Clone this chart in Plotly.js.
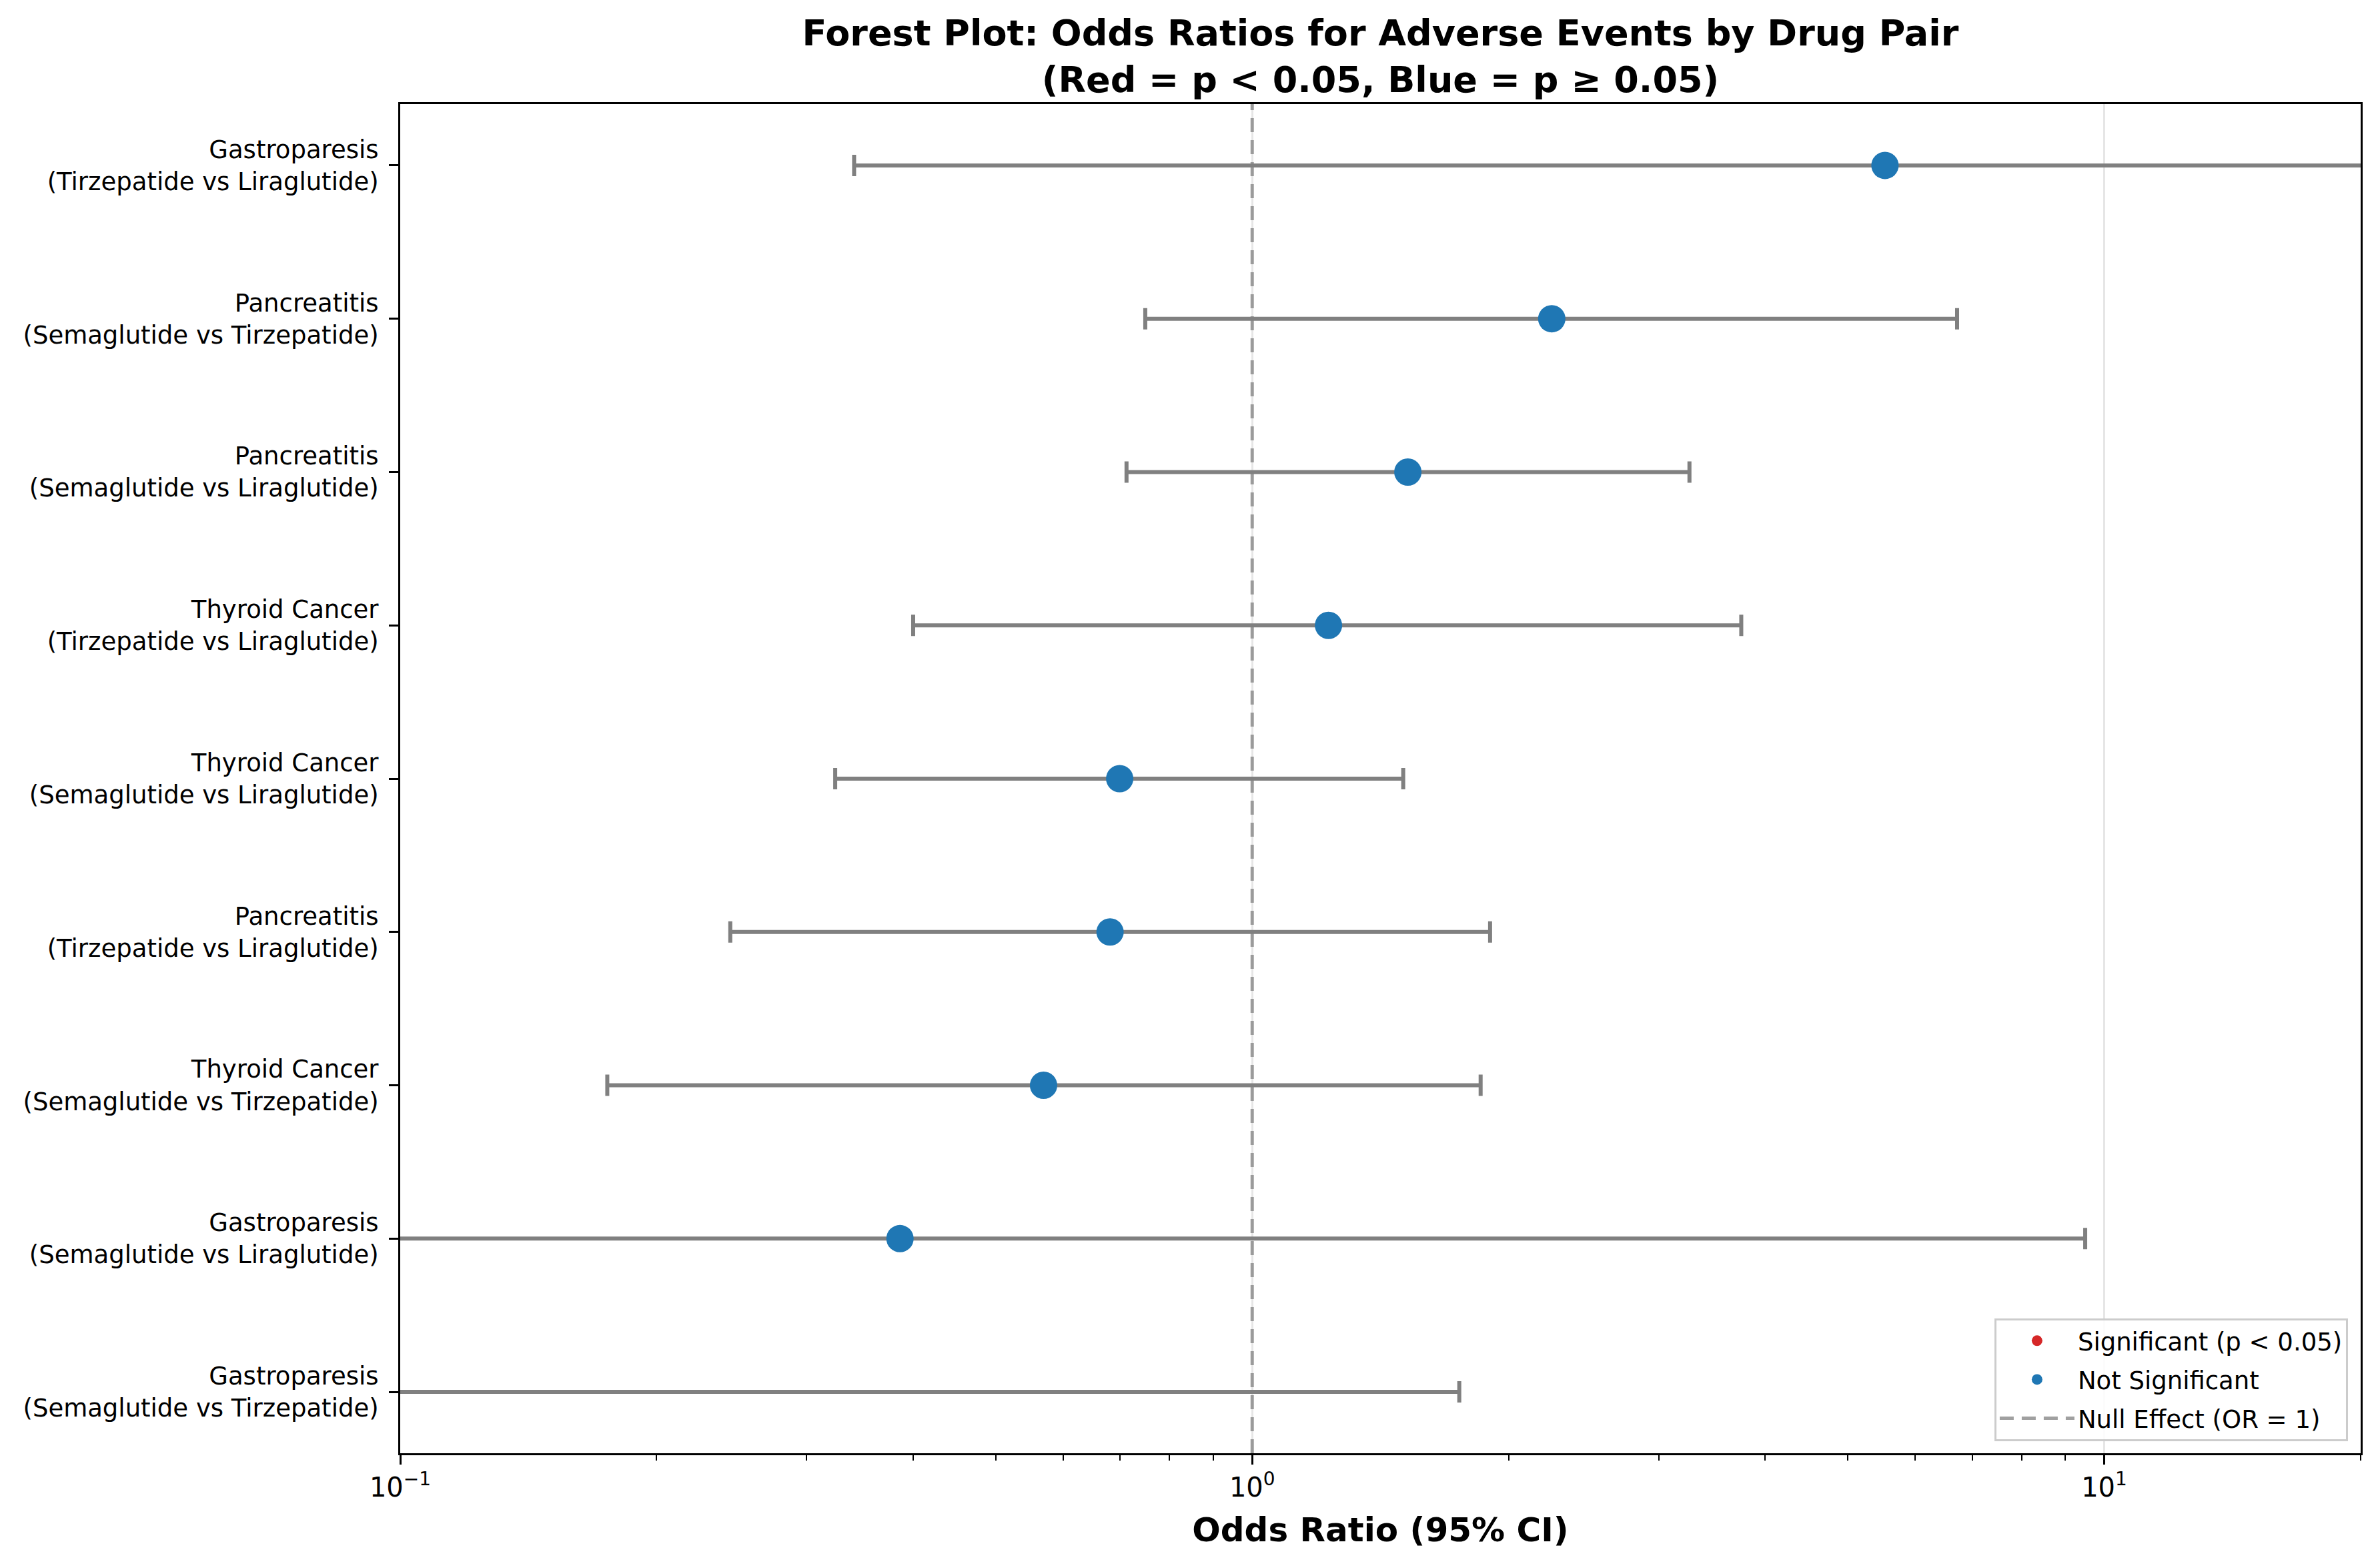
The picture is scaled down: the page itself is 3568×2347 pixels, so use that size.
<!DOCTYPE html>
<html>
<head>
<meta charset="utf-8">
<script src="https://cdn.plot.ly/plotly-3.0.1.min.js"></script>
<style>
  html, body { margin: 0; padding: 0; background: #fff; }
  #forest_chart { width: 3568px; height: 2347px; }
</style>
</head>
<body>
<div id="forest_chart"></div>
<script>
// rows bottom -> top
var eventNames = ['Gastroparesis', 'Gastroparesis', 'Thyroid Cancer', 'Pancreatitis', 'Thyroid Cancer',
                  'Thyroid Cancer', 'Pancreatitis', 'Pancreatitis', 'Gastroparesis'];
var drugPairs = ['Semaglutide vs Tirzepatide', 'Semaglutide vs Liraglutide', 'Semaglutide vs Tirzepatide',
                 'Tirzepatide vs Liraglutide', 'Semaglutide vs Liraglutide', 'Tirzepatide vs Liraglutide',
                 'Semaglutide vs Liraglutide', 'Semaglutide vs Tirzepatide', 'Tirzepatide vs Liraglutide'];
var oddsRatio = [0.05, 0.386, 0.569, 0.681, 0.699, 1.229, 1.523, 2.247, 5.53];
var ciLower   = [0.0014, 0.0157, 0.175, 0.244, 0.324, 0.400, 0.712, 0.749, 0.341];
var ciUpper   = [1.75, 9.50, 1.854, 1.902, 1.504, 3.75, 3.26, 6.72, 89.7];
var nullValue = 1;

var rowLabels = eventNames.map(function (e, i) { return e + '<br>(' + drugPairs[i] + ')'; });
var rowPos = eventNames.map(function (e, i) { return i; });

// significant when the CI does not cross 1
var isSig = oddsRatio.map(function (v, i) { return ciLower[i] > nullValue || ciUpper[i] < nullValue; });

function pick(arr, flag) {
  return arr.filter(function (v, i) { return isSig[i] === flag; });
}

function makeTrace(flag, name, color) {
  var or = pick(oddsRatio, flag);
  var lo = pick(ciLower, flag);
  var hi = pick(ciUpper, flag);
  var ys = pick(rowPos, flag);
  // an empty trace would be dropped from the legend, keep one blank point
  if (!or.length) { or = [null]; lo = [null]; hi = [null]; ys = [null]; }
  return {
    x: or,
    y: ys,
    name: name,
    legendgroup: name,
    type: 'scatter',
    mode: 'markers',
    hoverinfo: 'none',
    marker: { color: color, size: 41, line: { width: 0 } },
    error_x: {
      type: 'data',
      symmetric: false,
      array: or.map(function (v, i) { return v === null ? null : hi[i] - v; }),
      arrayminus: or.map(function (v, i) { return v === null ? null : v - lo[i]; }),
      color: '#808080',
      thickness: 6,
      width: 16
    }
  };
}

var trace1 = makeTrace(true, 'Significant (p &lt; 0.05)', '#d62728');
var trace2 = makeTrace(false, 'Not Significant', '#1f77b4');
var data = [trace1, trace2];

var minorVals = [];
[0.1, 1, 10].forEach(function (d) {
  for (var k = 2; k <= 9; k++) { minorVals.push(k * d); }
});

var font = 'DejaVu Sans, sans-serif';

var layout = {
  width: 3568,
  height: 2347,
  paper_bgcolor: '#ffffff',
  plot_bgcolor: '#ffffff',
  font: { family: font, color: '#000000', size: 37 },
  margin: { l: 600, r: 29, t: 156, b: 169 },
  title: {
    text: 'Forest Plot: Odds Ratios for Adverse Events by Drug Pair<br>(Red = p &lt; 0.05, Blue = p ≥ 0.05)',
    font: { family: font, size: 54, weight: 'bold', color: '#000000' },
    x: 0.5,
    xref: 'paper',
    xanchor: 'center',
    y: 1 - 68 / 2347,
    yref: 'container',
    yanchor: 'top'
  },
  xaxis: {
    type: 'log',
    range: [-1, Math.log10(20)],
    tickmode: 'array',
    tickvals: [0.1, 1, 10],
    ticktext: ['10<sup>−1</sup>', '10<sup>0</sup>', '10<sup>1</sup>'],
    tickfont: { family: font, size: 40 },
    ticks: 'outside',
    ticklen: 14,
    tickwidth: 3,
    tickcolor: '#000000',
    minor: {
      tickvals: minorVals,
      ticks: 'outside',
      ticklen: 8,
      tickwidth: 2,
      tickcolor: '#000000',
      showgrid: false
    },
    showgrid: true,
    gridcolor: '#e6e6e6',
    gridwidth: 3,
    showline: true,
    mirror: true,
    linecolor: '#000000',
    linewidth: 3,
    title: {
      text: 'Odds Ratio (95% CI)',
      font: { family: font, size: 50, weight: 'bold' },
      standoff: 24
    }
  },
  yaxis: {
    range: [-0.4, 8.4],
    tickmode: 'array',
    tickvals: rowPos,
    ticktext: rowLabels,
    tickfont: { family: font, size: 37 },
    ticks: 'outside',
    ticklen: 14,
    tickwidth: 3,
    tickcolor: '#000000',
    ticklabelstandoff: 8,
    showgrid: false,
    zeroline: false,
    showline: true,
    mirror: true,
    linecolor: '#000000',
    linewidth: 3
  },
  shapes: [{
    type: 'line',
    xref: 'x',
    yref: 'paper',
    x0: nullValue,
    x1: nullValue,
    y0: 0,
    y1: 1,
    layer: 'above',
    line: { color: 'rgba(128,128,128,0.75)', width: 5, dash: '21px,12px' },
    showlegend: true,
    legendgroup: 'null',
    name: 'Null Effect (OR = 1)'
  }],
  showlegend: true,
  legend: {
    x: 0.9935,
    xanchor: 'right',
    y: 0.009,
    yanchor: 'bottom',
    bgcolor: 'rgba(255,255,255,0.85)',
    bordercolor: '#cccccc',
    borderwidth: 3,
    font: { family: font, size: 37 },
    itemwidth: 112,
    tracegroupgap: 7,
    traceorder: 'grouped'
  }
};

var config = {
  responsive: false,
  displayModeBar: false
};

Plotly.newPlot('forest_chart', data, layout, config);
</script>
</body>
</html>
